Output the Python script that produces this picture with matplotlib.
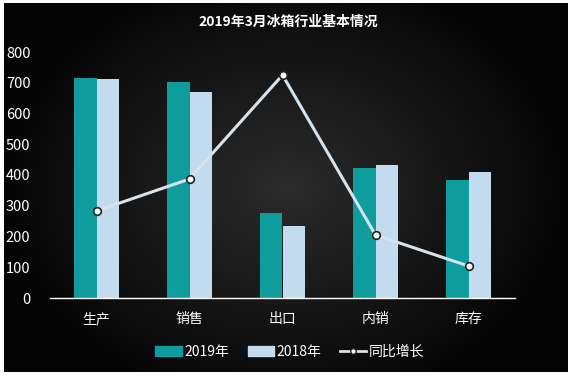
import numpy as np
import matplotlib.pyplot as plt
from matplotlib.lines import Line2D
from matplotlib.patches import Patch

plt.rcParams['font.family'] = ['Noto Sans CJK SC', 'DejaVu Sans']

# data
categories = ["生产", "销售", "出口", "内销", "库存"]
v2019 = [715, 702, 276, 423, 384]
v2018 = [712, 670, 234, 432, 410]
growth = [283, 387, 725, 205, 104]

c2019 = "#0f9c9c"
c2018 = "#c3dbee"
cline = "#d6e2ec"

fig = plt.figure(figsize=(5.74, 3.78), dpi=100)
fig.patch.set_facecolor("white")

# dark background with lighter centre
bg = fig.add_axes([4 / 574, 6 / 378, 563 / 574, 369 / 378])
yy, xx = np.mgrid[-1:1:200j, -1:1:300j]
r = np.sqrt((xx / 1.0) ** 2 + (yy / 1.2) ** 2)
shade = np.clip(0.17 - 0.15 * r, 0.02, 0.2)
bg.imshow(np.dstack([shade, shade, shade]), aspect="auto", extent=[0, 1, 0, 1])
bg.axis("off")

ax = fig.add_axes([50 / 574, 1 - 298 / 378, 465 / 574, (298 - 52) / 378])
ax.set_facecolor("none")
x = np.arange(len(categories))
w = 0.24
ax.bar(x - w / 2, v2019, width=w, color=c2019, zorder=2)
ax.bar(x + w / 2, v2018, width=w, color=c2018, zorder=2)
ax.plot(x, growth, color=cline, lw=2.2, marker="o", markersize=5.5,
        markerfacecolor="white", markeredgecolor="#222222", markeredgewidth=1.2, zorder=3)

ax.set_xlim(-0.5, 4.5)
ax.set_ylim(0, 800)
ax.set_yticks(range(0, 801, 100))
ax.set_xticks(x)
ax.set_xticklabels(categories)
for s in ["top", "right", "left"]:
    ax.spines[s].set_visible(False)
ax.spines["bottom"].set_color("white")
ax.spines["bottom"].set_linewidth(1)
ax.tick_params(axis="both", length=0, colors="white", labelsize=10)
ax.tick_params(axis="y", labelsize=10.5, pad=14)
ax.tick_params(axis="x", pad=10)

fig.text(0.502, 1 - 22 / 378, "2019年3月冰箱行业基本情况", color="white",
         fontsize=10, fontweight="bold", ha="center", va="center")

handles = [Patch(color=c2019), Patch(color=c2018),
           Line2D([0], [0], color=cline, lw=2, marker="o", markersize=4,
                  markerfacecolor="white", markeredgecolor="#222222")]
leg = fig.legend(handles, ["2019年", "2018年", "同比增长"], loc="center",
                 bbox_to_anchor=(0.505, 1 - 352 / 378), ncol=3, frameon=False,
                 fontsize=10, labelcolor="white", handlelength=1.9, handleheight=0.7,
                 handletextpad=0.2, columnspacing=1.3)

fig.savefig("out.png", dpi=100, facecolor=fig.get_facecolor())
